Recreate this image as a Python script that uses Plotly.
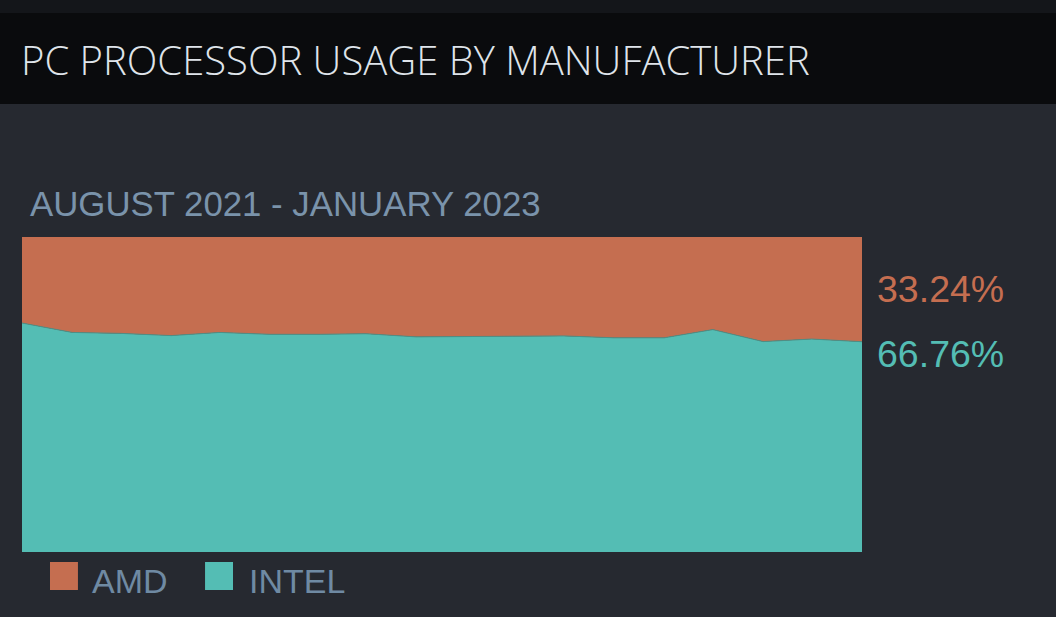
import plotly.graph_objects as go

# monthly steam survey share, aug 2021 .. jan 2023
months = ['2021-08-01', '2021-09-01', '2021-10-01', '2021-11-01', '2021-12-01', '2022-01-01',
          '2022-02-01', '2022-03-01', '2022-04-01', '2022-05-01', '2022-06-01', '2022-07-01',
          '2022-08-01', '2022-09-01', '2022-10-01', '2022-11-01', '2022-12-01', '2023-01-01']
intel = [72.7, 69.7, 69.4, 68.7, 69.7, 69.1, 69.1, 69.3, 68.3,
         68.3, 68.5, 68.6, 68.0, 68.0, 70.6, 66.8, 67.6, 66.76]
amd = [round(100 - v, 2) for v in intel]

AMD_COL = '#c56e50'
INTEL_COL = '#54bdb4'
BG = '#262930'
TXT = '#6f8aa3'

fig = go.Figure()
fig.add_trace(go.Scatter(x=months, y=intel, name='INTEL', stackgroup='one', mode='lines',
                         line=dict(width=1, color='#4f8f86'), fillcolor=INTEL_COL))
fig.add_trace(go.Scatter(x=months, y=amd, name='AMD', stackgroup='one', mode='lines',
                         line=dict(width=0, color=AMD_COL), fillcolor=AMD_COL))

# header bar
fig.add_shape(type='rect', xref='paper', yref='paper', x0=-0.05, x1=1.3, y0=1.711, y1=1.77,
              fillcolor='#14161a', line_width=0, layer='below')
fig.add_shape(type='rect', xref='paper', yref='paper', x0=-0.05, x1=1.3, y0=1.422, y1=1.711,
              fillcolor='#0a0b0d', line_width=0, layer='below')

fig.add_annotation(text='PC PROCESSOR USAGE BY MANUFACTURER', xref='paper', yref='paper',
                   x=-0.004, y=1.563, xanchor='left', yanchor='middle', showarrow=False,
                   font=dict(family='Open Sans', size=40, color='#dfe4ea', weight=300))
fig.add_annotation(text='AUGUST 2021 - JANUARY 2023', xref='paper', yref='paper',
                   x=0.007, y=1.106, xanchor='left', yanchor='middle', showarrow=False,
                   font=dict(family='Liberation Sans', size=34.8, color='#7a93ab'))

# end values
fig.add_annotation(text=f'{amd[-1]:.2f}%', xref='paper', yref='paper', x=1.016, y=0.835,
                   xanchor='left', yanchor='middle', showarrow=False,
                   font=dict(family='Liberation Sans', size=37.5, color=AMD_COL))
fig.add_annotation(text=f'{intel[-1]:.2f}%', xref='paper', yref='paper', x=1.016, y=0.629,
                   xanchor='left', yanchor='middle', showarrow=False,
                   font=dict(family='Liberation Sans', size=37.5, color=INTEL_COL))

# legend drawn by hand (big square swatches)
for name, col, x0, tx in [('AMD', AMD_COL, 0.0333, 0.0815), ('INTEL', INTEL_COL, 0.2179, 0.268)]:
    fig.add_shape(type='rect', xref='paper', yref='paper', x0=x0, x1=x0 + 0.0333,
                  y0=-0.1206, y1=-0.0317, fillcolor=col, line_width=0)
    fig.add_annotation(text=name, xref='paper', yref='paper', x=tx, y=-0.092,
                       xanchor='left', yanchor='middle', showarrow=False,
                       font=dict(family='Liberation Sans', size=34, color=TXT))

fig.update_layout(
    width=1056, height=617,
    margin=dict(l=22, r=194, t=237, b=65),
    paper_bgcolor=BG, plot_bgcolor=BG,
    showlegend=False,
    xaxis=dict(visible=False, range=[months[0], months[-1]]),
    yaxis=dict(visible=False, range=[0, 100]),
)
fig.write_html('out.html', config={'displayModeBar': False},
               post_script="document.body.style.margin='0';document.body.style.background='#262930';")
